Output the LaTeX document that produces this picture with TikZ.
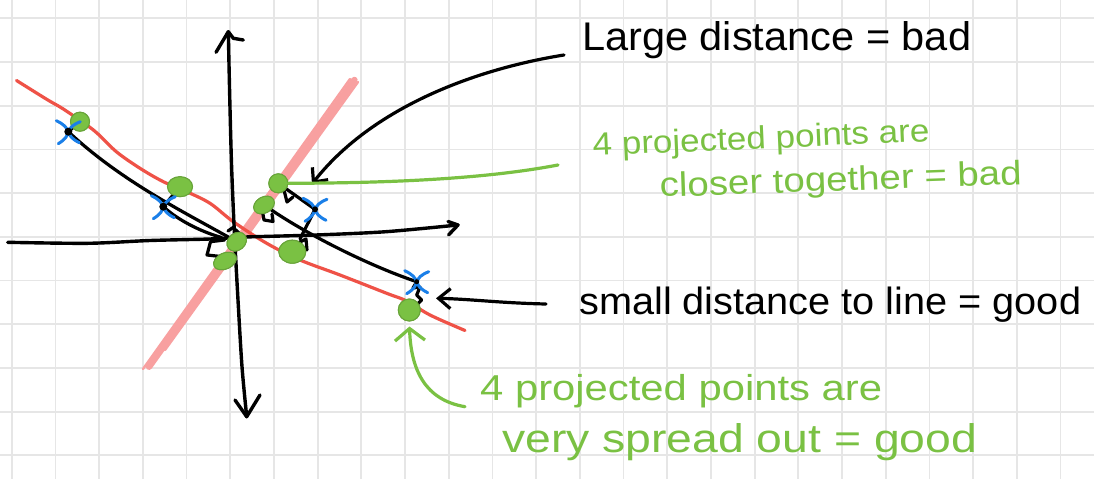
\documentclass[tikz,border=0pt]{standalone}
\usepackage{fontspec}
\setmainfont{Liberation Sans}
\usepackage{graphicx}
\usetikzlibrary{arrows.meta,shapes.geometric}
\definecolor{gridc}{HTML}{E6E6E6}
\definecolor{redc}{HTML}{EF5247}
\definecolor{pinkc}{HTML}{F8A0A0}
\definecolor{greenc}{HTML}{7AC143}
\definecolor{bluec}{HTML}{1A7FE8}
\tikzset{
  gridline/.style={gridc, line width=1.8pt},
  axisline/.style={black, line width=3.4pt, line cap=round, line join=round},
  proj/.style={black, line width=3.2pt, line cap=round, line join=round},
  pdot/.style={circle, fill=greenc, draw=greenc!85!black, line width=1pt, inner sep=0pt},
  pdotel/.style={ellipse, fill=greenc, draw=greenc!85!black, line width=1pt, inner sep=0pt},
  crossline/.style={bluec, line width=3pt, line cap=round},
  blacktxt/.style={inner sep=0pt, anchor=base west, black},
  greentxt/.style={inner sep=0pt, anchor=base west, greenc},
  note/.style={black, line width=3.2pt, line cap=round, line join=round},
  gnote/.style={greenc, line width=3.2pt, line cap=round, line join=round},
  bx/.pic={
    \draw[crossline] (-12,-11) .. controls (3,-4) and (3,4) .. (-10,12);
    \draw[crossline] (12,-10) .. controls (-3,-4) and (-3,4) .. (11,11);
  }
}
\begin{document}
\begin{tikzpicture}[x=1pt,y=-1pt]
\useasboundingbox (0,0) rectangle (1094,479);
\fill[white] (0,0) rectangle (1094,479);
% grid
\foreach \i in {0,...,24} {\draw[gridline] ({11.7+43.7*\i},0) -- ({11.7+43.7*\i},479);}
\foreach \j in {0,...,10} {\draw[gridline] (0,{18.3+43.7*\j}) -- (1094,{18.3+43.7*\j});}

% pink (second) line
\draw[pinkc, line width=6.5pt, line cap=round] (149,366.7) -- (354.4,80);
\draw[pinkc, line width=2.4pt, line cap=round] (143,369) -- (350,79);
\draw[pinkc, line width=2.4pt, line cap=round] (165,350) -- (358,82);

% red (fitted) line
\draw[redc, line width=3.2pt, line cap=round] plot[smooth, tension=0.55] coordinates {
 (16.5,80.5) (46.7,99.3) (63.3,109) (86.7,125) (98,134) (116.7,152) (140,168.3)
 (163.3,181.7) (186.7,191.7) (210,203.3) (233.3,221.7) (266.7,243.3) (300,260)
 (340,275) (386.7,293.3) (406.7,301) (430,315) (465,330.5)};

% axes
\draw[axisline] plot[smooth, tension=0.5] coordinates {(7.7,242.3) (87.7,243.3) (150,240.5) (210,239) (245.6,237) (315.8,235) (386,231.7) (458,225)};
\draw[axisline] (448,221.5) -- (458,225) -- (448.5,235);
\draw[axisline] plot[smooth, tension=0.5] coordinates {(228.3,31.7) (229.8,100) (231.6,166.7) (234.4,233) (238,300) (242,366.7) (246.7,416.7)};
\draw[axisline] (216,52.3) -- (228.3,31.7) -- (233.3,38.3) -- (243.3,40);
\draw[axisline] (235,400) -- (246.7,416.7) -- (260,395);

% data points (coordinates)
\coordinate (xA) at (68.3,131.7);
\coordinate (xB) at (163.3,206.7);
\coordinate (xC) at (315,209.3);
\coordinate (xD) at (416.7,281.7);

% projected points
\node[pdot, minimum size=19pt] (d1) at (80,121.7) {};
\node[pdotel, minimum width=25pt, minimum height=20pt] (d2) at (180,186.7) {};
\node[pdotel, minimum width=27pt, minimum height=23pt] (d3) at (292.3,251.7) {};
\node[pdot, minimum size=22pt] (d4) at (409.3,310) {};
\node[pdot, minimum size=19pt] (d5) at (278.3,183.3) {};
\node[pdotel, minimum width=22pt, minimum height=16pt, rotate=30] (d6) at (264,205) {};
\node[pdotel, minimum width=21pt, minimum height=17pt, rotate=40] (d7) at (236.7,241.7) {};
\node[pdotel, minimum width=24pt, minimum height=16pt, rotate=25] (d8) at (225,261) {};

% projection connectors
\draw[proj] (xA) .. controls (120,180) and (180,210) .. (d7);
\draw[proj] (xA) -- (d1);
\draw[proj] (xB) -- (d2);
\draw[proj] (xB) .. controls (180,222) and (205,233) .. (221.7,237.5);
\draw[proj] (224.6,240) -- (210.5,241.7) -- (207,255) -- (222.8,256.7);
\draw[proj] (228,231) -- (233,227.5) -- (239,233);
\draw[proj] (xC) -- (d5);
\draw[proj] (284,190) -- (287,202) -- (293,197);
\draw[proj] (xC) -- (300,239);
\draw[proj] (296,244) -- (306,239) -- (307,250);
\draw[proj] (xD) .. controls (370,266) and (310,236) .. (d6);
\draw[proj] (262,209) -- (264,220) -- (273,221.5) -- (272,214);
\draw[proj] (xD) -- (413,288) -- (420,287) -- (416.7,295) -- (421.7,300) -- (415,306.7);

% redraw dots on top of connectors
\node[pdot, minimum size=19pt] at (d1) {};
\node[pdotel, minimum width=25pt, minimum height=20pt] at (d2) {};
\node[pdotel, minimum width=27pt, minimum height=23pt] at (d3) {};
\node[pdot, minimum size=22pt] at (d4) {};
\node[pdot, minimum size=19pt] at (d5) {};
\node[pdotel, minimum width=22pt, minimum height=16pt, rotate=30] at (d6) {};
\node[pdotel, minimum width=21pt, minimum height=17pt, rotate=40] at (d7) {};
\node[pdotel, minimum width=24pt, minimum height=16pt, rotate=25] at (d8) {};

% blue crosses
\pic at (xA) {bx};
\pic at (xB) {bx};
\pic at (xC) {bx};
\pic at (xD) {bx};
\fill[black] (xA) circle (4);
\fill[black] (xB) circle (4);
\fill[black] (xC) circle (3);
\fill[black] (xD) circle (2.5);

% texts
\node[blacktxt, font=\fontsize{40}{48}\selectfont] (tLarge) at (582,50) {\resizebox{389pt}{\height}{Large distance = bad}};
\node[greentxt, font=\fontsize{32}{38}\selectfont, rotate=2.5] (tClose1) at (593,156) {\resizebox{337pt}{\height}{4 projected points are}};
\node[greentxt, font=\fontsize{34}{40}\selectfont, rotate=2] (tClose2) at (660,197) {\resizebox{362pt}{\height}{closer together = bad}};
\node[blacktxt, font=\fontsize{38}{46}\selectfont] (tSmall) at (579,314) {\resizebox{502pt}{\height}{small distance to line = good}};
\node[greentxt, font=\fontsize{36}{44}\selectfont] (tSpread1) at (480,400) {\resizebox{402pt}{\height}{4 projected points are}};
\node[greentxt, font=\fontsize{40}{48}\selectfont] (tSpread2) at (502,452) {\resizebox{475pt}{\height}{very spread out = good}};

% annotation connectors
\coordinate (lgS) at (564,55);
\coordinate (lgT) at (312,184);
\draw[note, -{Straight Barb[length=11pt,width=20pt]}] (lgS) .. controls (470,70) and (370,110) .. (lgT);
\coordinate (gE) at (558,165);
\draw[gnote] (d5.east) .. controls (420,183) and (500,176) .. (gE);
\coordinate (smS) at (546,304);
\coordinate (smT) at (436,298.3);
\draw[note, -{Straight Barb[length=12pt,width=20pt]}] (smS) .. controls (500,303) and (470,299) .. (smT);
\coordinate (spS) at (465,406.7);
\draw[gnote, shorten >=5pt, -{Straight Barb[length=12pt,width=30pt]}] (spS) .. controls (425,400) and (411,370) .. (d4.south);
\end{tikzpicture}
\end{document}
